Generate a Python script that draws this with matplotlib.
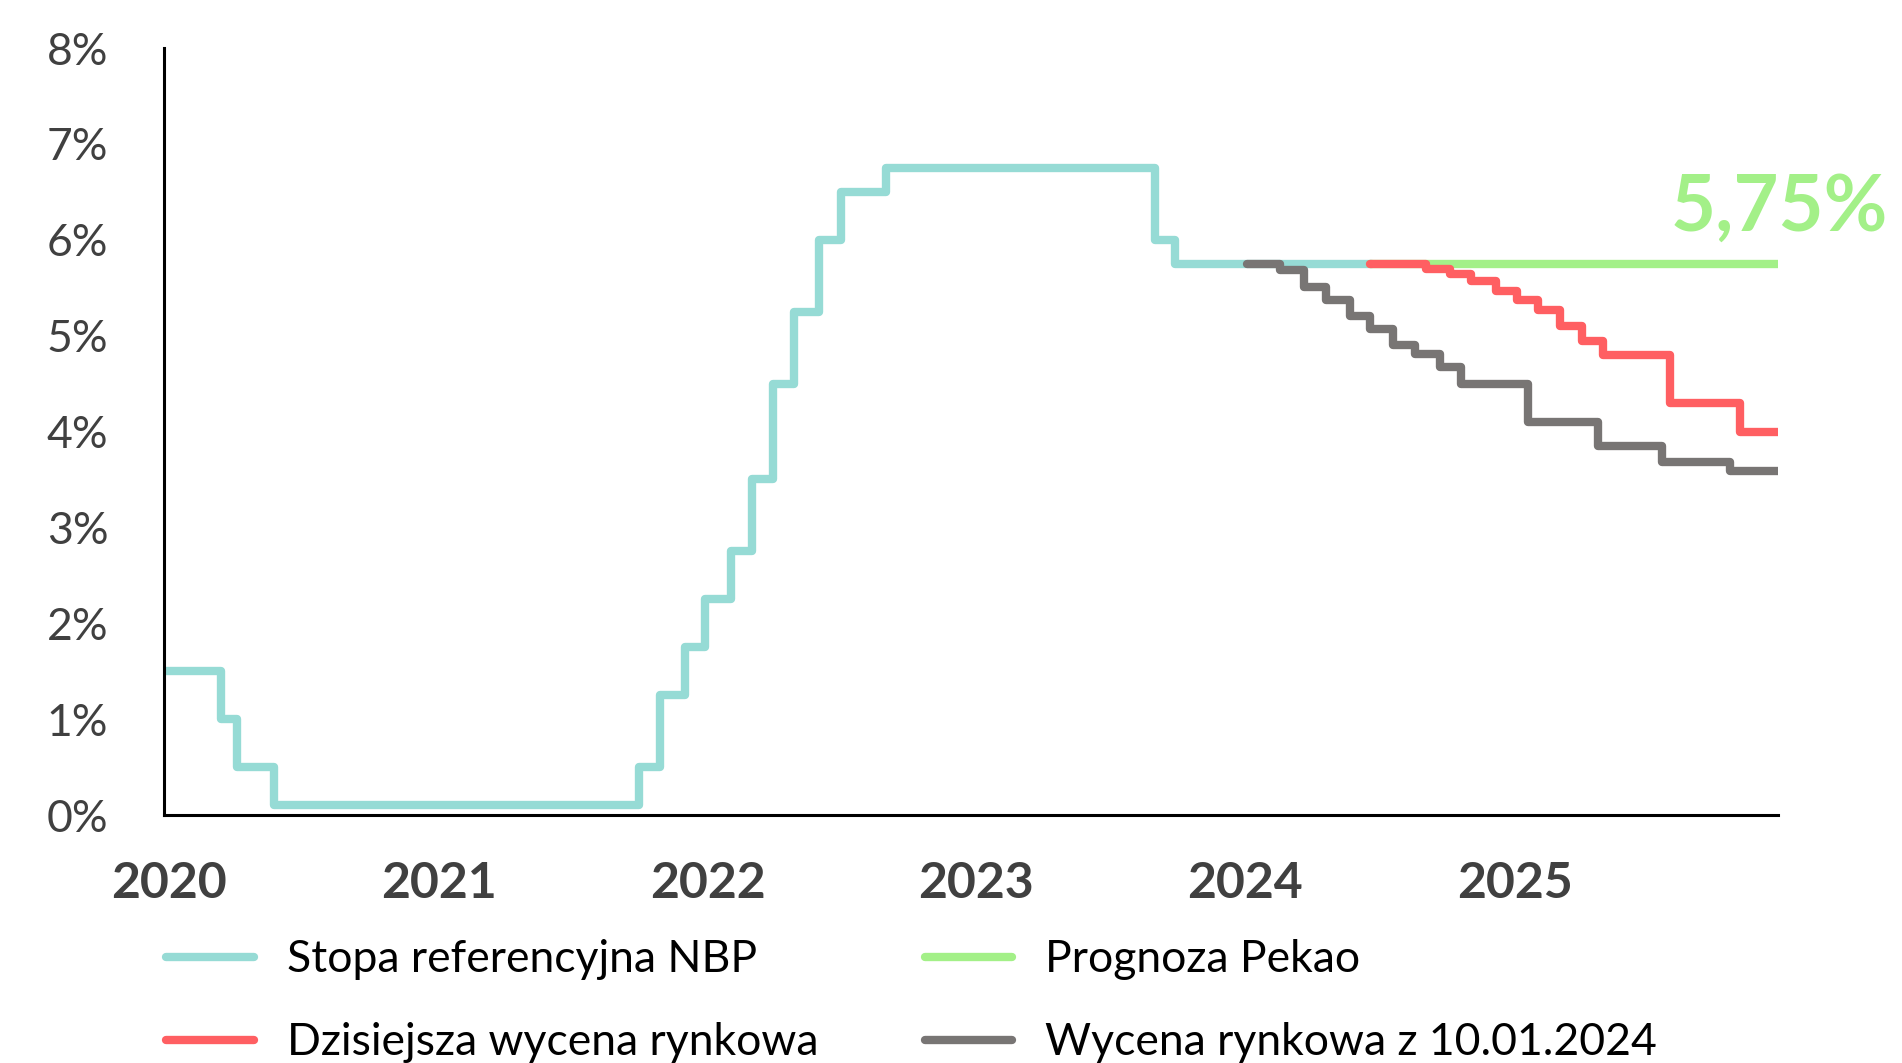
import matplotlib
matplotlib.use("Agg")
import matplotlib.pyplot as plt
import pandas as pd

# ---- data ----
nbp_dates = ["2020-01-01", "2020-03-18", "2020-04-09", "2020-05-29", "2021-10-07",
             "2021-11-04", "2021-12-09", "2022-01-05", "2022-02-09", "2022-03-09",
             "2022-04-07", "2022-05-06", "2022-06-09", "2022-07-08", "2022-09-08",
             "2023-09-07", "2023-10-05", "2024-06-28"]
nbp_values = [1.50, 1.00, 0.50, 0.10, 0.50, 1.25, 1.75, 2.25, 2.75, 3.50,
              4.50, 5.25, 6.00, 6.50, 6.75, 6.00, 5.75, 5.75]

pekao_dates = ["2024-06-25", "2026-01-01"]
pekao_values = [5.75, 5.75]

today_dates = ["2024-06-25", "2024-09-09", "2024-10-12", "2024-11-10", "2024-12-13",
               "2025-01-11", "2025-02-09", "2025-03-10", "2025-04-09", "2025-05-08",
               "2025-08-07", "2025-11-10", "2026-01-01"]
today_values = [5.75, 5.70, 5.64, 5.57, 5.47, 5.37, 5.27, 5.10, 4.94, 4.80,
                4.30, 4.00, 4.00]

jan_dates = ["2024-01-10", "2024-02-24", "2024-03-28", "2024-04-27", "2024-05-30",
             "2024-06-25", "2024-07-27", "2024-08-26", "2024-09-28", "2024-10-27",
             "2025-01-26", "2025-05-01", "2025-07-27", "2025-10-27", "2026-01-01"]
jan_values = [5.75, 5.68, 5.51, 5.37, 5.21, 5.07, 4.90, 4.81, 4.67, 4.50,
              4.10, 3.85, 3.68, 3.59, 3.59]

year_ticks = ["2020", "2021", "2022", "2023", "2024", "2025"]
y_ticks = [0, 1, 2, 3, 4, 5, 6, 7, 8]

labels = ["Stopa referencyjna NBP", "Dzisiejsza wycena rynkowa",
          "Prognoza Pekao", "Wycena rynkowa z 10.01.2024"]
annotation = "5,75%"

# ---- style ----
C_NBP = "#96dbd5"
C_PEKAO = "#a3f088"
C_TODAY = "#ff5f62"
C_JAN = "#787574"
TXT = "#404040"
LW = 6

plt.rcParams["font.family"] = ["Lato", "DejaVu Sans"]

fig = plt.figure(figsize=(19.02, 10.63), dpi=100)
ax = fig.add_axes([0.0862, 0.2333, 0.8488, 0.7215])

kw = dict(lw=LW, drawstyle="steps-post", solid_capstyle="round", solid_joinstyle="round")
l_nbp, = ax.plot(pd.to_datetime(nbp_dates), nbp_values, color=C_NBP, zorder=2, **kw)
l_pek, = ax.plot(pd.to_datetime(pekao_dates), pekao_values, color=C_PEKAO, zorder=3, **kw)
l_jan, = ax.plot(pd.to_datetime(jan_dates), jan_values, color=C_JAN, zorder=4, **kw)
l_tod, = ax.plot(pd.to_datetime(today_dates), today_values, color=C_TODAY, zorder=5, **kw)

ax.set_xlim(pd.Timestamp("2020-01-01"), pd.Timestamp("2026-01-01"))
ax.set_ylim(0, 8)
ax.set_xticks(pd.to_datetime([y + "-01-08" for y in year_ticks]))
ax.set_xticklabels(year_ticks, fontsize=36, fontweight="bold", color=TXT)
ax.set_yticks(y_ticks)
ax.set_yticklabels([f"{v}%" for v in y_ticks], fontsize=32, color=TXT)
ax.tick_params(axis="x", length=0, pad=33)
ax.tick_params(axis="y", length=0, pad=40)
for s in ["top", "right"]:
    ax.spines[s].set_visible(False)
for s in ["left", "bottom"]:
    ax.spines[s].set_linewidth(2.2)
    ax.spines[s].set_color("black")

ax.annotate(annotation, xy=(pd.Timestamp(pekao_dates[-1]), pekao_values[-1]),
            xytext=(110, 33), textcoords="offset pixels", ha="right", va="baseline",
            fontsize=56, fontweight="bold", color=C_PEKAO, annotation_clip=False)

leg = fig.legend([l_nbp, l_tod, l_pek, l_jan], labels, ncol=2, loc="center left",
                 bbox_to_anchor=(0.0875, 0.058), bbox_transform=fig.transFigure,
                 frameon=False, fontsize=32, handlelength=1.96, handletextpad=0.75,
                 columnspacing=2.4, labelspacing=0.95, borderaxespad=0, borderpad=0)
for t in leg.get_texts():
    t.set_color("black")

fig.savefig("out.png", dpi=100)
